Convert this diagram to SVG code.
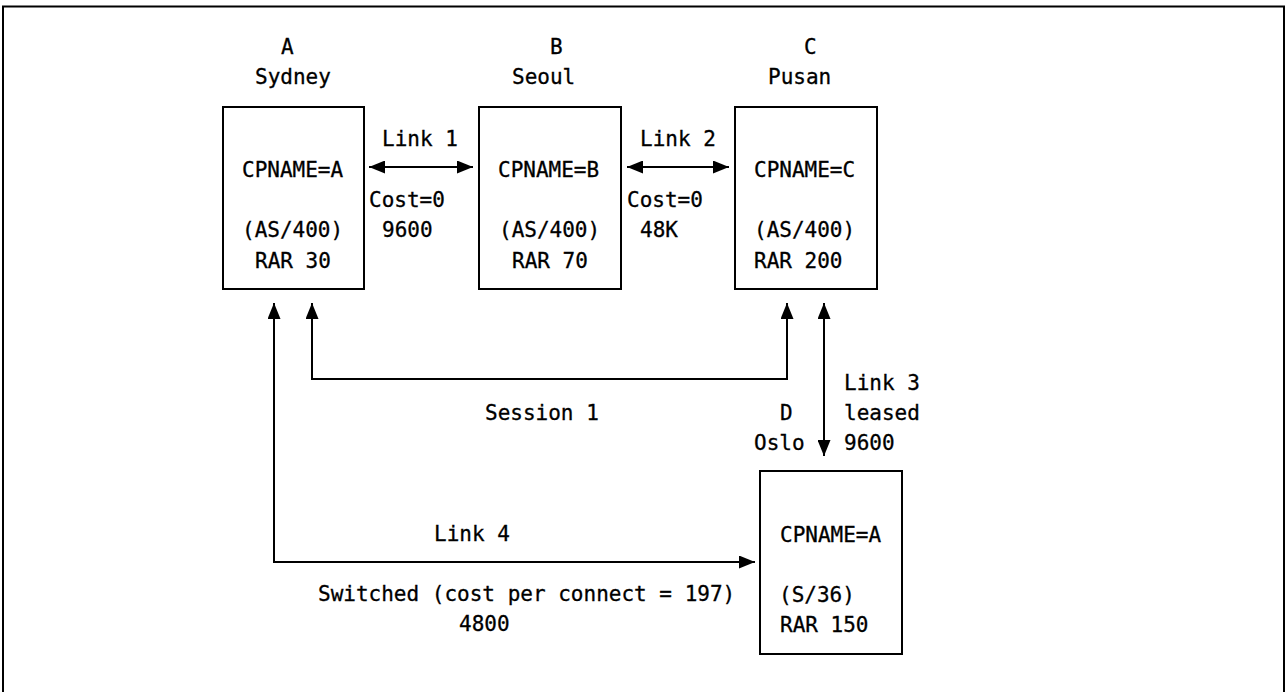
<svg xmlns="http://www.w3.org/2000/svg" width="1286" height="692" viewBox="0 0 1286 692">
<style>
.t{font-family:"DejaVu Sans Mono","Liberation Mono",monospace;font-size:21px;fill:#000;stroke:#000;stroke-width:0.3px}
.box{fill:#fff;stroke:#000;stroke-width:2}
.c{fill:none;stroke:#000;stroke-width:2}
</style>
<defs>
<marker id="ah" viewBox="0 0 16 13" refX="16" refY="6.5" markerWidth="16" markerHeight="13" markerUnits="userSpaceOnUse" orient="auto-start-reverse">
<path d="M0,0 L16,6.5 L0,13 z" fill="#000"/>
</marker>
</defs>
<rect width="1286" height="692" fill="#fff"/>
<path id="frame" d="M3,700 V6.5 H1284 V700" fill="none" stroke="#000" stroke-width="2"/>
<g id="nodeA">
<rect class="box" x="223" y="107" width="141" height="182"/>
<text class="t" x="281" y="54">A</text>
<text class="t" x="255" y="84">Sydney</text>
<text class="t" x="242" y="177">CPNAME=A</text>
<text class="t" x="242" y="237">(AS/400)</text>
<text class="t" x="255" y="268">RAR 30</text>
</g>
<g id="nodeB">
<rect class="box" x="479" y="107" width="142" height="182"/>
<text class="t" x="550" y="54">B</text>
<text class="t" x="512" y="84">Seoul</text>
<text class="t" x="498" y="177">CPNAME=B</text>
<text class="t" x="499" y="237">(AS/400)</text>
<text class="t" x="512" y="268">RAR 70</text>
</g>
<g id="nodeC">
<rect class="box" x="735" y="107" width="142" height="182"/>
<text class="t" x="804" y="54">C</text>
<text class="t" x="768" y="84">Pusan</text>
<text class="t" x="754" y="177">CPNAME=C</text>
<text class="t" x="754" y="237">(AS/400)</text>
<text class="t" x="754" y="268">RAR 200</text>
</g>
<g id="nodeD">
<rect class="box" x="760" y="471" width="142" height="183"/>
<text class="t" x="780" y="420">D</text>
<text class="t" x="754" y="450">Oslo</text>
<text class="t" x="780" y="542">CPNAME=A</text>
<text class="t" x="779" y="602">(S/36)</text>
<text class="t" x="780" y="632">RAR 150</text>
</g>
<g id="connectors">
<line class="c" x1="369" y1="167" x2="473" y2="167" marker-start="url(#ah)" marker-end="url(#ah)"/>
<line class="c" x1="627" y1="167" x2="729" y2="167" marker-start="url(#ah)" marker-end="url(#ah)"/>
<path class="c" d="M312,303 V379 H787 V303" marker-start="url(#ah)" marker-end="url(#ah)"/>
<line class="c" x1="824" y1="303" x2="824" y2="456" marker-start="url(#ah)" marker-end="url(#ah)"/>
<path class="c" d="M274,303 V562 H755" marker-start="url(#ah)" marker-end="url(#ah)"/>
<text class="t" x="382" y="146">Link 1</text>
<text class="t" x="369" y="207">Cost=0</text>
<text class="t" x="382" y="237">9600</text>
<text class="t" x="640" y="146">Link 2</text>
<text class="t" x="627" y="207">Cost=0</text>
<text class="t" x="640" y="237">48K</text>
<text class="t" x="485" y="420">Session 1</text>
<text class="t" x="844" y="390">Link 3</text>
<text class="t" x="844" y="420">leased</text>
<text class="t" x="844" y="450">9600</text>
<text class="t" x="434" y="541">Link 4</text>
<text class="t" x="318" y="601">Switched (cost per connect = 197)</text>
<text class="t" x="459" y="631">4800</text>
</g>
</svg>
